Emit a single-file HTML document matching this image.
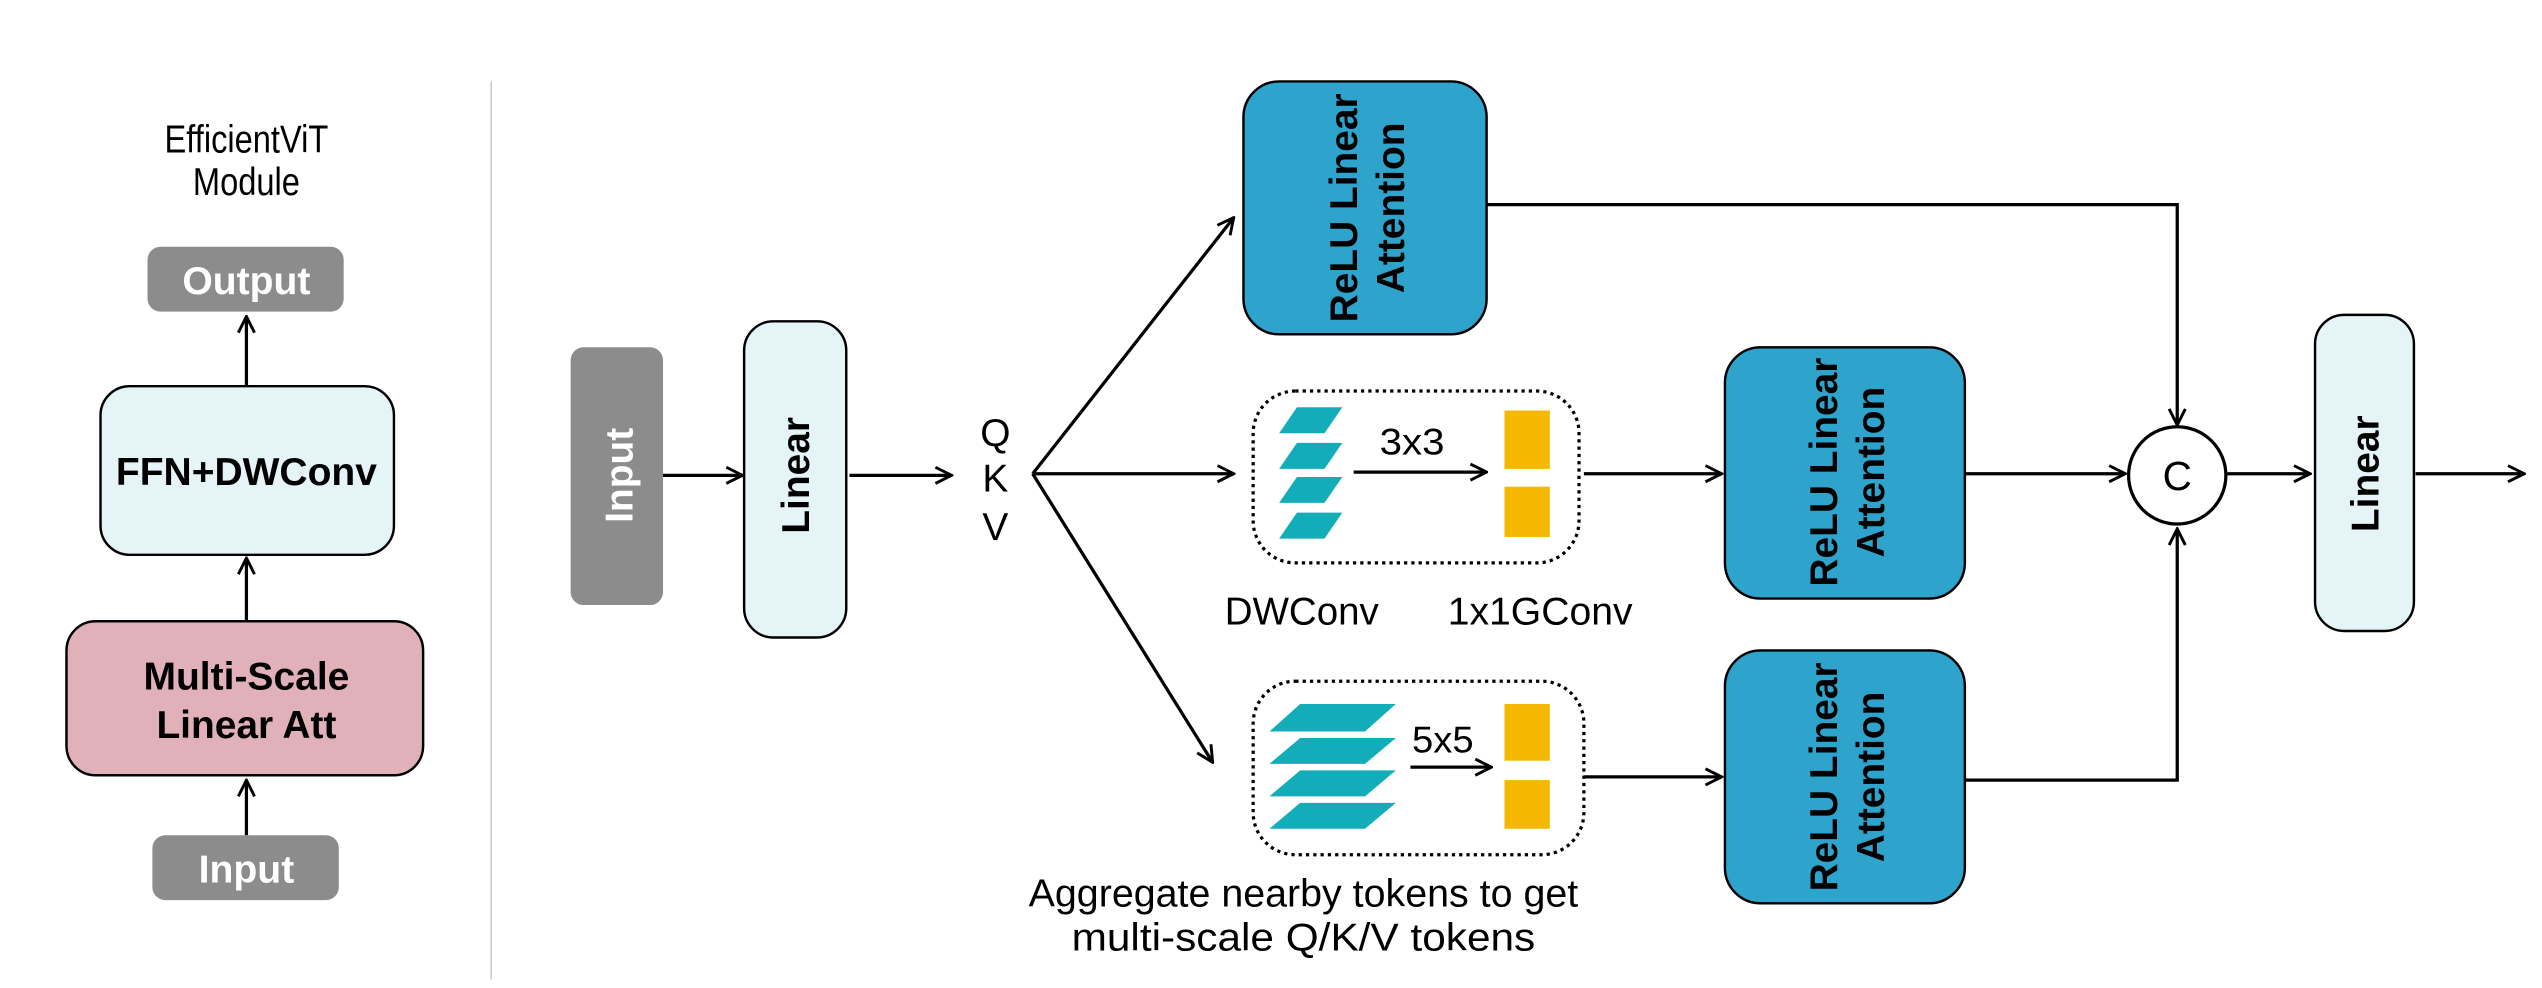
<!DOCTYPE html>
<html><head><meta charset="utf-8"><style>
html,body{margin:0;padding:0;background:#fff;}
svg{display:block;}
text{font-family:"Liberation Sans",Arial,sans-serif;}
</style></head><body>
<svg width="2542" height="988" viewBox="0 0 1568 609" xmlns="http://www.w3.org/2000/svg">
<defs>
<marker id="a" viewBox="0 0 12 12" refX="11" refY="6" markerWidth="12" markerHeight="12" markerUnits="userSpaceOnUse" orient="auto">
<polyline points="1,1 11,6 1,11" fill="none" stroke="#000" stroke-width="1.8"/>
</marker>
</defs>
<rect width="1568" height="609" fill="#fff"/>
<line x1="303" y1="50" x2="303" y2="604" stroke="#ccc" stroke-width="1"/>
<!-- left module -->
<text x="152" y="94" font-size="24" text-anchor="middle" textLength="101" lengthAdjust="spacingAndGlyphs">EfficientViT</text>
<text x="152" y="120" font-size="24" text-anchor="middle" textLength="66" lengthAdjust="spacingAndGlyphs">Module</text>
<rect x="91" y="152" width="121" height="40" rx="8" fill="#8c8c8c"/>
<text x="152" y="181" font-size="24" font-weight="bold" fill="#fff" text-anchor="middle" textLength="79" lengthAdjust="spacingAndGlyphs">Output</text>
<line x1="152" y1="238" x2="152" y2="195" stroke="#000" stroke-width="2" marker-end="url(#a)"/>
<rect x="62" y="238" width="181" height="104" rx="18" fill="#e4f4f7" stroke="#000" stroke-width="1.5"/>
<text x="152" y="299" font-size="24" font-weight="bold" text-anchor="middle" textLength="161" lengthAdjust="spacingAndGlyphs">FFN+DWConv</text>
<line x1="152" y1="383" x2="152" y2="344" stroke="#000" stroke-width="2" marker-end="url(#a)"/>
<rect x="41" y="383" width="220" height="95" rx="18" fill="#e0b1b8" stroke="#000" stroke-width="1.5"/>
<text x="152" y="425" font-size="24" font-weight="bold" text-anchor="middle" textLength="127" lengthAdjust="spacingAndGlyphs">Multi-Scale</text>
<text x="152" y="455" font-size="24" font-weight="bold" text-anchor="middle" textLength="111" lengthAdjust="spacingAndGlyphs">Linear Att</text>
<line x1="152" y1="515" x2="152" y2="481" stroke="#000" stroke-width="2" marker-end="url(#a)"/>
<rect x="94" y="515" width="115" height="40" rx="8" fill="#8c8c8c"/>
<text x="152" y="544" font-size="24" font-weight="bold" fill="#fff" text-anchor="middle" textLength="59" lengthAdjust="spacingAndGlyphs">Input</text>
<!-- right -->
<rect x="352" y="214" width="57" height="159" rx="8" fill="#8c8c8c"/>
<text transform="translate(390,293) rotate(-90)" font-size="24" font-weight="bold" fill="#fff" text-anchor="middle">Input</text>
<line x1="409" y1="293" x2="458" y2="293" stroke="#000" stroke-width="2" marker-end="url(#a)"/>
<rect x="459" y="198" width="63" height="195" rx="18" fill="#e4f4f7" stroke="#000" stroke-width="1.5"/>
<text transform="translate(499,293) rotate(-90)" font-size="24" font-weight="bold" text-anchor="middle">Linear</text>
<line x1="524" y1="293" x2="587" y2="293" stroke="#000" stroke-width="2" marker-end="url(#a)"/>
<text x="614" y="275" font-size="24" text-anchor="middle">Q</text>
<text x="614" y="303" font-size="24" text-anchor="middle">K</text>
<text x="614" y="333" font-size="24" text-anchor="middle">V</text>
<line x1="637" y1="292" x2="761" y2="134" stroke="#000" stroke-width="2" marker-end="url(#a)"/>
<line x1="637" y1="292" x2="761" y2="292" stroke="#000" stroke-width="2" marker-end="url(#a)"/>
<line x1="637" y1="292" x2="748" y2="470" stroke="#000" stroke-width="2" marker-end="url(#a)"/>
<!-- RLA boxes -->
<rect x="767" y="50" width="150" height="156" rx="22" fill="#2ea3cc" stroke="#000" stroke-width="1.5"/>
<text transform="translate(842,128) rotate(-90)" font-size="24" font-weight="bold" text-anchor="middle"><tspan x="0" y="-5">ReLU Linear</tspan><tspan x="0" y="24">Attention</tspan></text>
<rect x="1064" y="214" width="148" height="155" rx="22" fill="#2ea3cc" stroke="#000" stroke-width="1.5"/>
<text transform="translate(1138,291) rotate(-90)" font-size="24" font-weight="bold" text-anchor="middle"><tspan x="0" y="-5">ReLU Linear</tspan><tspan x="0" y="24">Attention</tspan></text>
<rect x="1064" y="401" width="148" height="156" rx="22" fill="#2ea3cc" stroke="#000" stroke-width="1.5"/>
<text transform="translate(1138,479) rotate(-90)" font-size="24" font-weight="bold" text-anchor="middle"><tspan x="0" y="-5">ReLU Linear</tspan><tspan x="0" y="24">Attention</tspan></text>
<!-- mid dotted -->
<rect x="773" y="241" width="201" height="106" rx="26" fill="none" stroke="#000" stroke-width="2" stroke-dasharray="2,2.5"/>
<g fill="#12adb8">
<polygon points="800,251 828,251 817,267 789,267"/>
<polygon points="800,273 828,273 817,289 789,289"/>
<polygon points="800,294 828,294 817,310 789,310"/>
<polygon points="800,316 828,316 817,332 789,332"/>
</g>
<text x="871" y="280" font-size="23" text-anchor="middle" textLength="40" lengthAdjust="spacingAndGlyphs">3x3</text>
<line x1="835" y1="291" x2="917" y2="291" stroke="#000" stroke-width="2" marker-end="url(#a)"/>
<rect x="928" y="253" width="28" height="36" fill="#f5b800"/>
<rect x="928" y="300" width="28" height="31" fill="#f5b800"/>
<text x="803" y="385" font-size="24" text-anchor="middle" textLength="95" lengthAdjust="spacingAndGlyphs">DWConv</text>
<text x="950" y="385" font-size="24" text-anchor="middle" textLength="114" lengthAdjust="spacingAndGlyphs">1x1GConv</text>
<line x1="977" y1="292" x2="1062" y2="292" stroke="#000" stroke-width="2" marker-end="url(#a)"/>
<!-- bottom dotted -->
<rect x="773" y="420" width="204" height="107" rx="26" fill="none" stroke="#000" stroke-width="2" stroke-dasharray="2,2.5"/>
<g fill="#12adb8">
<polygon points="802,434 861,434 842,451 783,451"/>
<polygon points="802,455 861,455 842,471 783,471"/>
<polygon points="802,475 861,475 842,491 783,491"/>
<polygon points="802,495 861,495 842,511 783,511"/>
</g>
<text x="890" y="464" font-size="23" text-anchor="middle" textLength="38" lengthAdjust="spacingAndGlyphs">5x5</text>
<line x1="870" y1="473" x2="920" y2="473" stroke="#000" stroke-width="2" marker-end="url(#a)"/>
<rect x="928" y="434" width="28" height="35" fill="#f5b800"/>
<rect x="928" y="481" width="28" height="30" fill="#f5b800"/>
<line x1="977" y1="479" x2="1062" y2="479" stroke="#000" stroke-width="2" marker-end="url(#a)"/>
<text x="804" y="559" font-size="24" text-anchor="middle" textLength="339" lengthAdjust="spacingAndGlyphs">Aggregate nearby tokens to get</text>
<text x="804" y="586" font-size="24" text-anchor="middle" textLength="286" lengthAdjust="spacingAndGlyphs">multi-scale Q/K/V tokens</text>
<!-- concat -->
<polyline points="917,126 1343,126 1343,262" fill="none" stroke="#000" stroke-width="2" marker-end="url(#a)"/>
<line x1="1212" y1="292" x2="1311" y2="292" stroke="#000" stroke-width="2" marker-end="url(#a)"/>
<polyline points="1212,481 1343,481 1343,326" fill="none" stroke="#000" stroke-width="2" marker-end="url(#a)"/>
<circle cx="1343" cy="293" r="30" fill="#fff" stroke="#000" stroke-width="2"/>
<text x="1343" y="302" font-size="25" text-anchor="middle">C</text>
<line x1="1374" y1="292" x2="1425" y2="292" stroke="#000" stroke-width="2" marker-end="url(#a)"/>
<rect x="1428" y="194" width="61" height="195" rx="18" fill="#e4f4f7" stroke="#000" stroke-width="1.5"/>
<text transform="translate(1467,292) rotate(-90)" font-size="24" font-weight="bold" text-anchor="middle">Linear</text>
<line x1="1490" y1="292" x2="1557" y2="292" stroke="#000" stroke-width="2" marker-end="url(#a)"/>
</svg>
</body></html>
